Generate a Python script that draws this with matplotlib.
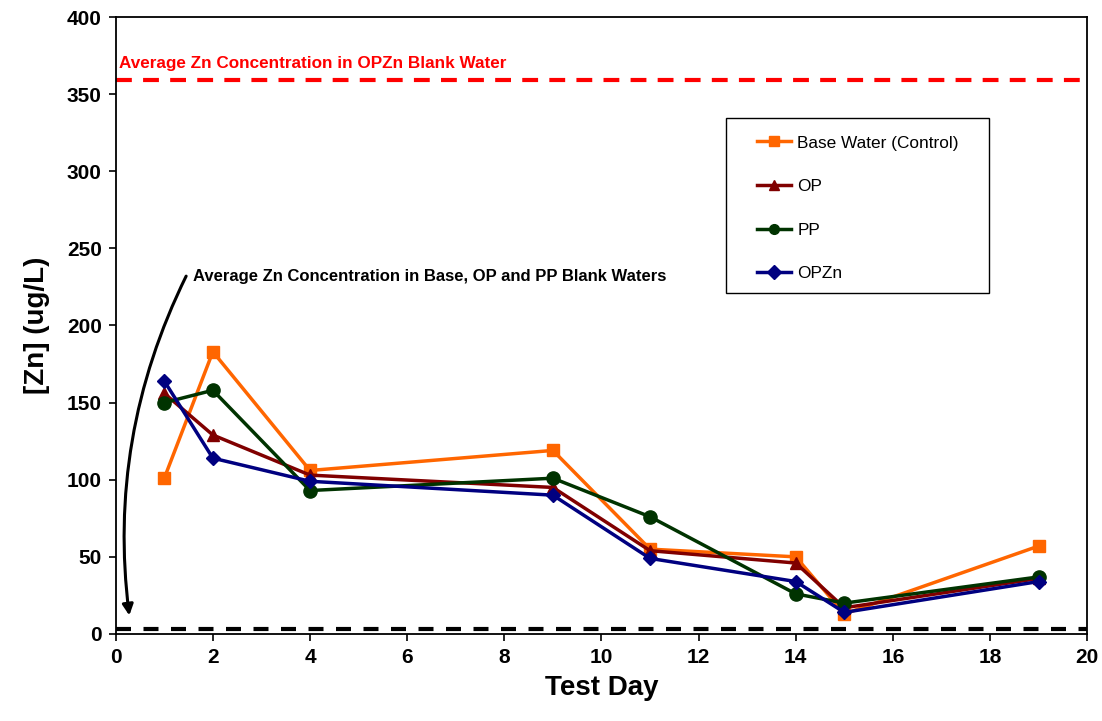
import matplotlib
matplotlib.use("Agg")
import matplotlib.pyplot as plt
from matplotlib.patches import Rectangle

days = [1, 2, 4, 9, 11, 14, 15, 19]
base_water = [101, 183, 106, 119, 55, 50, 13, 57]
op = [156, 129, 103, 95, 54, 46, 17, 36]
pp = [150, 158, 93, 101, 76, 26, 20, 37]
opzn = [164, 114, 99, 90, 49, 34, 14, 34]

opzn_blank = 359
base_blank = 3

series_names = ["Base Water (Control)", "OP", "PP", "OPZn"]
colors = ["#FF6600", "#800000", "#003300", "#000080"]
markers = ["s", "^", "o", "D"]
msizes = [9, 9, 9.5, 7.5]

plt.rcParams['font.family'] = ['Liberation Sans', 'DejaVu Sans']

fig = plt.figure(figsize=(11.02, 7.21), dpi=100)
ax = fig.add_axes([0.105, 0.1207, 0.8816, 0.8557])

ax.axhline(opzn_blank, color="#FF0000", lw=3, dashes=(3.8, 2.7), zorder=1)
ax.axhline(base_blank, color="black", lw=3, dashes=(3.6, 3.0), zorder=1)

for name, vals, c, m, ms in zip(series_names, [base_water, op, pp, opzn], colors, markers, msizes):
    ax.plot(days, vals, color=c, marker=m, markersize=ms, lw=2.5, label=name,
            markeredgecolor=c, markerfacecolor=c, zorder=3)

ax.set_xlim(0, 20)
ax.set_ylim(0, 400)
ax.set_xticks(range(0, 21, 2))
ax.set_yticks(range(0, 401, 50))
ax.tick_params(axis='both', direction='out', length=5, width=1.2, labelsize=15, pad=5)
for lab in ax.get_xticklabels() + ax.get_yticklabels():
    lab.set_fontweight('bold')
for s in ax.spines.values():
    s.set_linewidth(1.3)
    s.set_color('black')

ax.set_xlabel("Test Day", fontsize=20, fontweight='bold', labelpad=6)
ax.set_ylabel("[Zn] (ug/L)", fontsize=20, fontweight='bold', labelpad=12)

ax.text(0.06, 365, "Average Zn Concentration in OPZn Blank Water", color="#FF0000",
        fontsize=12.3, fontweight='bold', va='bottom', ha='left')
ax.text(1.6, 232, "Average Zn Concentration in Base, OP and PP Blank Waters", color="black",
        fontsize=12, fontweight='bold', va='center', ha='left')
ax.annotate("", xy=(0.28, 12), xytext=(1.45, 232),
            arrowprops=dict(arrowstyle="-|>", color="black", lw=2.2, mutation_scale=16,
                            connectionstyle="arc3,rad=0.15", shrinkA=0, shrinkB=0))

# legend frame drawn separately
ax.add_patch(Rectangle((0.628, 0.553), 0.271, 0.283, transform=ax.transAxes,
                       facecolor='white', edgecolor='black', lw=1.0, zorder=4))
leg = ax.legend(loc='upper left', bbox_to_anchor=(0.660, 0.808), borderaxespad=0,
                borderpad=0, fontsize=12.4, frameon=False,
                labelspacing=1.66, handlelength=2.0, handletextpad=0.35)
leg.set_zorder(5)
for h in leg.legend_handles:
    h.set_markersize(7)
    h.set_linewidth(2.5)

fig.savefig("out.png", dpi=100)
